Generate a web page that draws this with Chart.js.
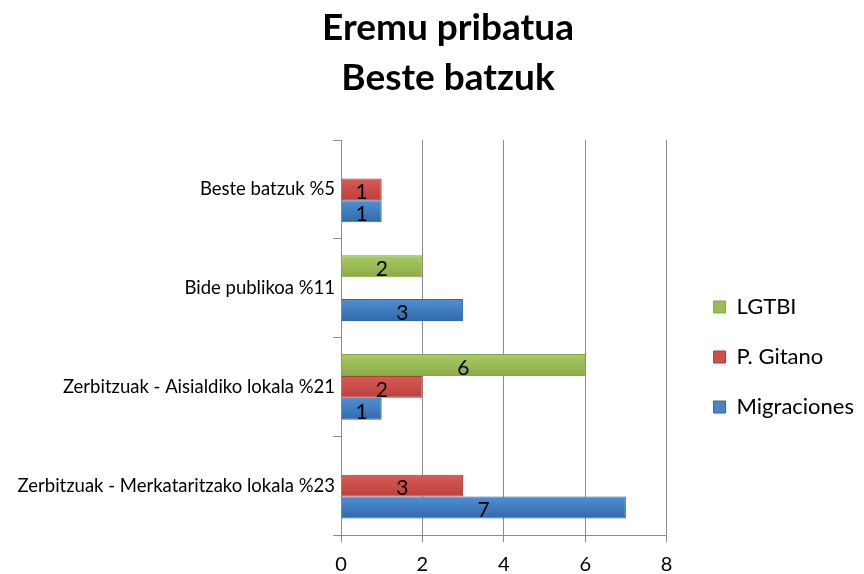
<!DOCTYPE html>
<html>
<head>
<meta charset="utf-8">
<script src="https://cdn.jsdelivr.net/npm/chart.js@4/dist/chart.umd.min.js"></script>
<style>
  html, body { margin: 0; padding: 0; background: #fff; }
  #wrap { width: 864px; height: 574px; }
</style>
</head>
<body>
<div id="wrap"><canvas id="canvas"></canvas></div>
<script>
// categories, top to bottom
var categories = [
    "Beste batzuk %5",
    "Bide publikoa %11",
    "Zerbitzuak - Aisialdiko lokala %21",
    "Zerbitzuak - Merkataritzako lokala %23"
];
var lgtbi       = [null, 2, 6, null];
var gitano      = [1, null, 2, 3];
var migraciones = [1, 3, 1, 7];
var xTicks = [0, 2, 4, 6, 8];
var titleLines = ["Eremu pribatua", "Beste batzuk"];

// flat colour (legend) and top/bottom shades for the bars
var flatColors = ['#9bbb59', '#cd504b', '#4a84c5'];
var shades = [
    ['#a9cb62', '#8aab48'],
    ['#dc5a55', '#b8403c'],
    ['#4f8fd4', '#3169ab']
];

// two-line title, drawn a bit right of the canvas middle like the original
var titleDraw = {
    id: 'titleDraw',
    afterDraw: function(chart) {
        var ctx = chart.ctx;
        ctx.save();
        ctx.font = 'bold 37px Lato';
        ctx.fillStyle = '#000';
        ctx.textAlign = 'center';
        ctx.textBaseline = 'middle';
        titleLines.forEach(function(t, i) {
            ctx.fillText(t, chart.width / 2 + 16, 28 + i * 50);
        });
        ctx.restore();
    }
};

// vertical shading on every bar
var barShade = {
    id: 'barShade',
    beforeDatasetsDraw: function(chart) {
        var ctx = chart.ctx;
        chart.data.datasets.forEach(function(ds, i) {
            chart.getDatasetMeta(i).data.forEach(function(bar) {
                var h = bar.height || 0;
                if (!h || !bar.options) return;
                var g = ctx.createLinearGradient(0, bar.y - h / 2, 0, bar.y + h / 2);
                g.addColorStop(0, shades[i][0]);
                g.addColorStop(1, shades[i][1]);
                bar.options.backgroundColor = g;
            });
        });
    }
};

// numbers written in the middle of each bar
var barLabels = {
    id: 'barLabels',
    afterDatasetsDraw: function(chart) {
        var ctx = chart.ctx;
        ctx.save();
        ctx.font = '21px Lato';
        ctx.fillStyle = '#000';
        ctx.textAlign = 'center';
        ctx.textBaseline = 'middle';
        chart.data.datasets.forEach(function(ds, i) {
            var meta = chart.getDatasetMeta(i);
            meta.data.forEach(function(bar, j) {
                var v = ds.data[j];
                if (v === null || v === undefined) return;
                ctx.fillText(String(v), (bar.x + bar.base) / 2, bar.y + 3);
            });
        });
        ctx.restore();
    }
};

function bg(c) { return flatColors[c.datasetIndex]; }

var config = {
    type: 'bar',
    data: {
        labels: categories,
        datasets: [
            { label: 'LGTBI', data: lgtbi, backgroundColor: bg, borderColor: '#86a546', borderWidth: 1 },
            { label: 'P. Gitano', data: gitano, backgroundColor: bg, borderColor: '#ad3d39', borderWidth: 1 },
            { label: 'Migraciones', data: migraciones, backgroundColor: bg, borderColor: '#3266a6', borderWidth: 1 }
        ]
    },
    options: {
        indexAxis: 'y',
        responsive: true,
        maintainAspectRatio: false,
        animation: false,
        categoryPercentage: 0.667,
        barPercentage: 1,
        layout: { padding: { top: 140, right: 0, bottom: 0, left: 0 } },
        scales: {
            x: {
                min: 0, max: 8,
                afterBuildTicks: function(scale) {
                    scale.ticks = xTicks.map(function(v) { return { value: v }; });
                },
                afterFit: function(scale) { scale.height = 39; },
                grid: { color: '#8c8c8c', lineWidth: 1, tickLength: 7 },
                border: { color: '#8c8c8c' },
                ticks: { color: '#000', font: { family: 'Lato', size: 20, lineHeight: 1 }, padding: 13 }
            },
            y: {
                afterFit: function(scale) { scale.width = 341; },
                grid: { drawOnChartArea: false, color: '#8c8c8c', tickLength: 8 },
                border: { color: '#8c8c8c' },
                ticks: { color: '#000', font: { family: 'Lato', size: 18.5 }, padding: -2 }
            },
            // empty right axis, only used as a gap between plot and legend
            gap: {
                type: 'linear',
                position: 'right',
                display: false,
                afterFit: function(scale) { scale.width = 19; }
            }
        },
        plugins: {
            title: { display: false },
            legend: {
                position: 'right',
                labels: {
                    color: '#000',
                    font: { family: 'Lato', size: 22 },
                    boxWidth: 12, boxHeight: 12,
                    padding: 28,
                    generateLabels: function(chart) {
                        return chart.data.datasets.map(function(ds, i) {
                            return {
                                text: ds.label,
                                fillStyle: flatColors[i],
                                strokeStyle: ds.borderColor,
                                lineWidth: 1,
                                fontColor: '#000',
                                datasetIndex: i,
                                hidden: !chart.isDatasetVisible(i)
                            };
                        });
                    }
                }
            },
            tooltip: { enabled: false }
        }
    },
    plugins: [barShade, barLabels, titleDraw]
};

window.onload = function() {
    var ctx = document.getElementById('canvas').getContext('2d');
    window.myBar = new Chart(ctx, config);
};
</script>
</body>
</html>
